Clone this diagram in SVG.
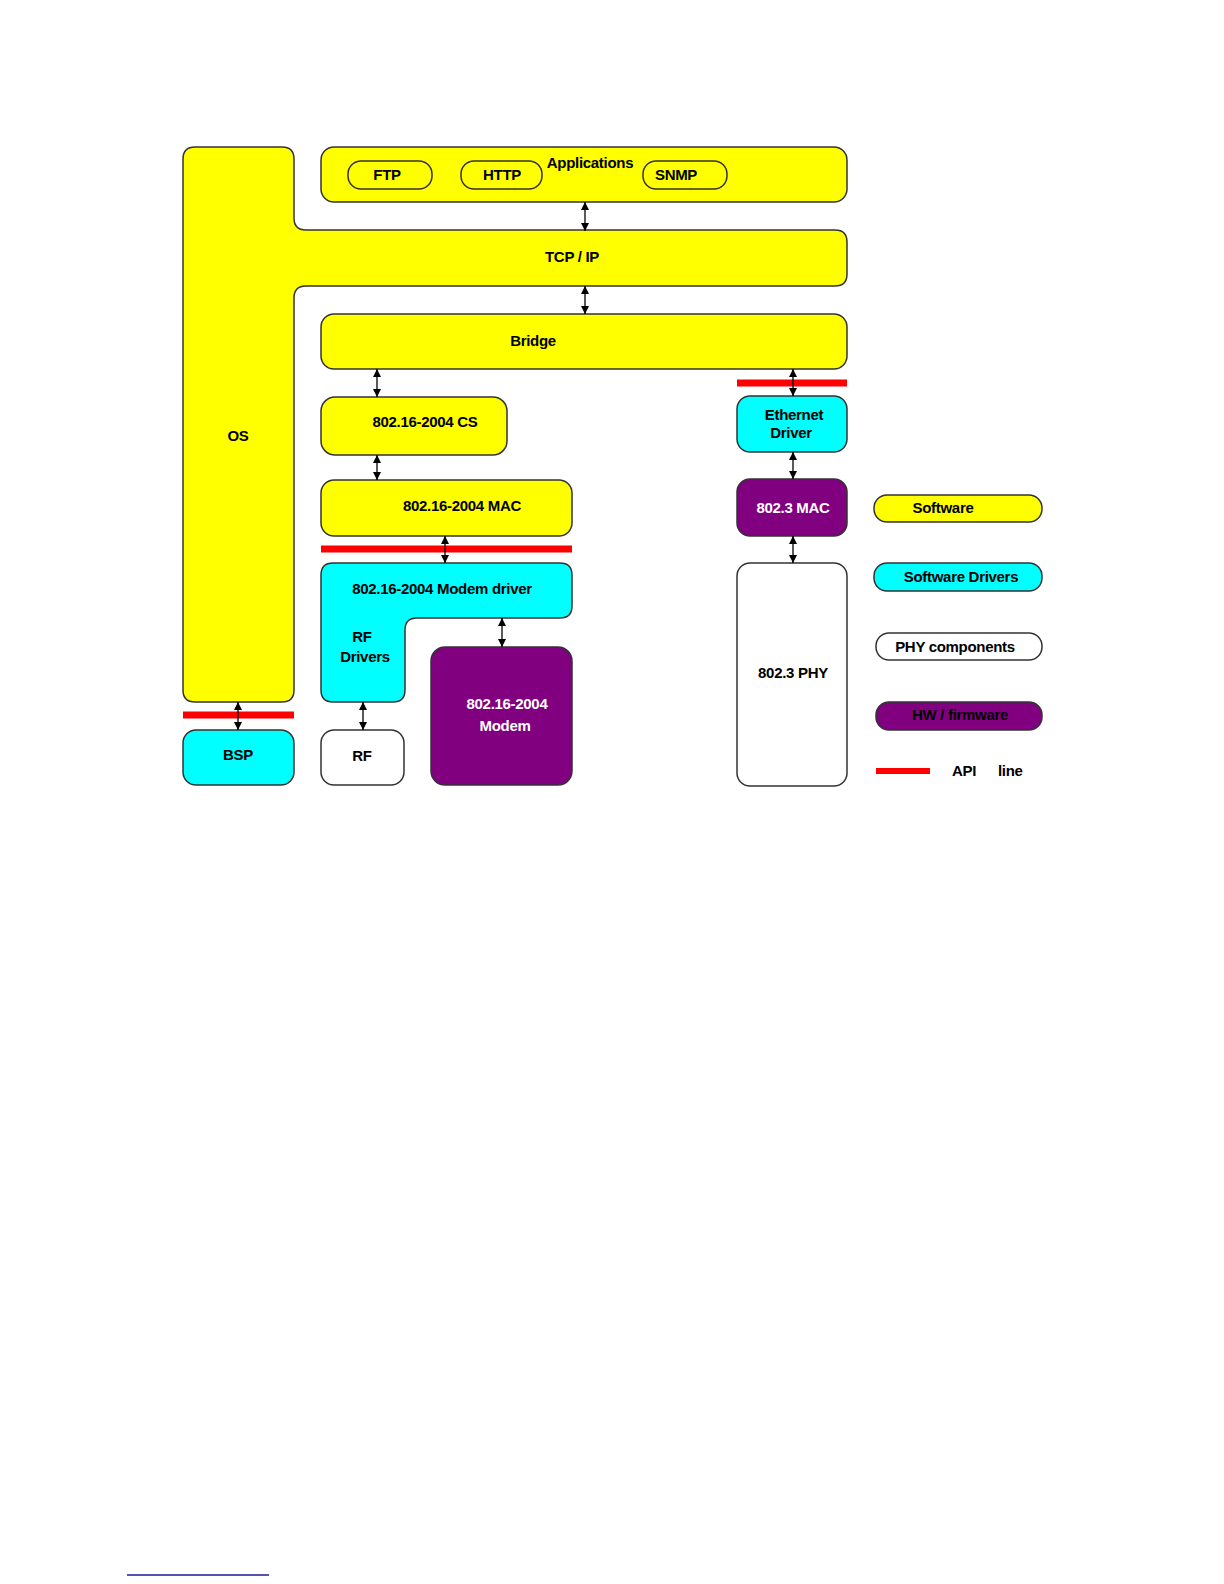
<svg xmlns="http://www.w3.org/2000/svg" width="1224" height="1584" viewBox="0 0 1224 1584">
<style>
  .sw { fill: #ffff00; stroke: #333; stroke-width: 1.5; }
  .drv { fill: #00ffff; stroke: #333; stroke-width: 1.5; }
  .phy { fill: #ffffff; stroke: #333; stroke-width: 1.5; }
  .hw { fill: #800080; stroke: #333; stroke-width: 1.5; }
  .pill { fill: #ffff00; stroke: #333; stroke-width: 1.5; }
  .api { stroke: #ff0000; stroke-width: 7; }
  .t { font-family: "Liberation Sans", Arial, sans-serif; font-weight: bold; font-size: 15px; fill: #000; text-anchor: middle; letter-spacing: -0.3px; }
  .tw { fill: #ffffff; }
  .conn line { stroke: #000; stroke-width: 1.3; marker-start: url(#ah); marker-end: url(#ah); }
</style>
<defs>
  <marker id="ah" viewBox="0 0 10 10" refX="10" refY="5" markerWidth="8" markerHeight="8" markerUnits="userSpaceOnUse" orient="auto-start-reverse">
    <path d="M0,0 L10,5 L0,10 Z" fill="#000"/>
  </marker>
</defs>

<g id="os-tcp">
  <path class="sw" d="M195,147 H282 Q294,147 294,159 V218 Q294,230 306,230 H835 Q847,230 847,242 V274 Q847,286 835,286 H306 Q294,286 294,298 V690 Q294,702 282,702 H195 Q183,702 183,690 V159 Q183,147 195,147 Z"/>
  <text class="t" x="238" y="441">OS</text>
  <text class="t" x="572" y="262">TCP / IP</text>
</g>

<g id="applications">
  <rect class="sw" x="321" y="147" width="526" height="55" rx="13"/>
  <text class="t" x="590" y="168">Applications</text>
</g>
<g id="ftp">
  <rect class="pill" x="348" y="161" width="84" height="28" rx="13"/>
  <text class="t" x="387" y="180">FTP</text>
</g>
<g id="http">
  <rect class="pill" x="461" y="161" width="81" height="28" rx="13"/>
  <text class="t" x="502" y="180">HTTP</text>
</g>
<g id="snmp">
  <rect class="pill" x="643" y="161" width="84" height="28" rx="13"/>
  <text class="t" x="676" y="180">SNMP</text>
</g>

<g id="bridge">
  <rect class="sw" x="321" y="314" width="526" height="55" rx="13"/>
  <text class="t" x="533" y="346">Bridge</text>
</g>

<g id="cs">
  <rect class="sw" x="321" y="397" width="186" height="58" rx="14"/>
  <text class="t" x="425" y="427">802.16-2004 CS</text>
</g>

<g id="mac">
  <rect class="sw" x="321" y="480" width="251" height="56" rx="13"/>
  <text class="t" x="462" y="511">802.16-2004 MAC</text>
</g>

<g id="modem-driver">
  <path class="drv" d="M333,563 H560 Q572,563 572,575 V606 Q572,618 560,618 H417 Q405,618 405,630 V690 Q405,702 393,702 H333 Q321,702 321,690 V575 Q321,563 333,563 Z"/>
  <text class="t" x="442" y="594">802.16-2004 Modem driver</text>
  <text class="t" x="362" y="642">RF</text>
  <text class="t" x="365" y="662">Drivers</text>
</g>

<g id="modem">
  <rect class="hw" x="431" y="647" width="141" height="138" rx="14"/>
  <text class="t tw" x="507" y="709">802.16-2004</text>
  <text class="t tw" x="505" y="731">Modem</text>
</g>

<g id="rf">
  <rect class="phy" x="321" y="730" width="83" height="55" rx="13"/>
  <text class="t" x="362" y="761">RF</text>
</g>

<g id="bsp">
  <rect class="drv" x="183" y="730" width="111" height="55" rx="13"/>
  <text class="t" x="238" y="760">BSP</text>
</g>

<g id="ethernet-driver">
  <rect class="drv" x="737" y="396" width="110" height="56" rx="13"/>
  <text class="t" x="794" y="420">Ethernet</text>
  <text class="t" x="791" y="438">Driver</text>
</g>

<g id="mac-8023">
  <rect class="hw" x="737" y="479" width="110" height="57" rx="13"/>
  <text class="t tw" x="793" y="513">802.3 MAC</text>
</g>

<g id="phy-8023">
  <rect class="phy" x="737" y="563" width="110" height="223" rx="13"/>
  <text class="t" x="793" y="678">802.3 PHY</text>
</g>

<g id="api-lines">
  <line class="api" x1="321" y1="549" x2="572" y2="549"/>
  <line class="api" x1="183" y1="715" x2="294" y2="715"/>
  <line class="api" x1="737" y1="383" x2="847" y2="383"/>
</g>

<g id="legend">
  <g id="legend-software">
    <rect class="sw" x="874" y="495" width="168" height="27" rx="13"/>
    <text class="t" x="943" y="513">Software</text>
  </g>
  <g id="legend-drivers">
    <rect class="drv" x="874" y="563" width="168" height="28" rx="13"/>
    <text class="t" x="961" y="582">Software Drivers</text>
  </g>
  <g id="legend-phy">
    <rect class="phy" x="876" y="633" width="166" height="27" rx="13"/>
    <text class="t" x="955" y="652">PHY components</text>
  </g>
  <g id="legend-hw">
    <rect class="hw" x="876" y="702" width="166" height="28" rx="13"/>
    <text class="t" x="960" y="720" fill="#222">HW / firmware</text>
  </g>
  <g id="legend-api">
    <line class="api" x1="876" y1="771" x2="930" y2="771" style="stroke-width:6"/>
    <text class="t" x="952" y="776" text-anchor="start" style="text-anchor:start">API</text>
    <text class="t" x="998" y="776" style="text-anchor:start">line</text>
  </g>
</g>

<g id="connectors" class="conn">
  <line x1="585" y1="202" x2="585" y2="231"/>
  <line x1="585" y1="286" x2="585" y2="314"/>
  <line x1="377" y1="369" x2="377" y2="397"/>
  <line x1="377" y1="455" x2="377" y2="480"/>
  <line x1="445" y1="536" x2="445" y2="563"/>
  <line x1="502" y1="618" x2="502" y2="647"/>
  <line x1="363" y1="702" x2="363" y2="730"/>
  <line x1="238" y1="702" x2="238" y2="730"/>
  <line x1="793" y1="369" x2="793" y2="396"/>
  <line x1="793" y1="452" x2="793" y2="479"/>
  <line x1="793" y1="536" x2="793" y2="563"/>
</g>

<line id="footnote-rule" x1="127" y1="1575" x2="269" y2="1575" stroke="#1a1a99" stroke-width="1.5"/>
</svg>
